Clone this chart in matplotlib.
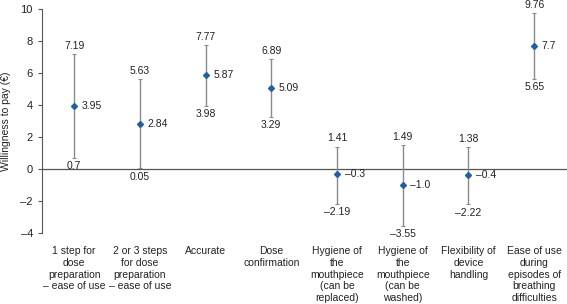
import matplotlib.pyplot as plt
import numpy as np

# datos
categorias = ["1 step for\ndose\npreparation\n\u2013 ease of use",
              "2 or 3 steps\nfor dose\npreparation\n\u2013 ease of use",
              "Accurate",
              "Dose\nconfirmation",
              "Hygiene of\nthe\nmouthpiece\n(can be\nreplaced)",
              "Hygiene of\nthe\nmouthpiece\n(can be\nwashed)",
              "Flexibility of\ndevice\nhandling",
              "Ease of use\nduring\nepisodes of\nbreathing\ndifficulties"]
media = [3.95, 2.84, 5.87, 5.09, -0.3, -1.0, -0.4, 7.7]
superior = [7.19, 5.63, 7.77, 6.89, 1.41, 1.49, 1.38, 9.76]
inferior = [0.7, 0.05, 3.98, 3.29, -2.19, -3.55, -2.22, 5.65]
yticks = [-4, -2, 0, 2, 4, 6, 8, 10]

plt.rcParams['font.family'] = ['Liberation Sans', 'DejaVu Sans']
fs = 7.5
gris = '#8a8a8a'
azul = '#1f5fa6'


def etiqueta(v):
  return str(v).replace('-', '\u2013')


fig = plt.figure(figsize=(5.67, 3.04), dpi=100)
ax = fig.add_axes([0.074, 0.234, 0.926, 0.735])

x = np.arange(len(categorias))
med = np.array(media)
sup = np.array(superior)
inf = np.array(inferior)

ax.axhline(0, color='#555555', lw=0.9, zorder=1)
ax.errorbar(x, med, yerr=[med - inf, sup - med], fmt='none', ecolor=gris,
            elinewidth=1.0, capsize=1.2, capthick=0.8, zorder=2)
ax.plot(x, med, 'D', color=azul, ms=3.0, zorder=3)

for i in range(len(x)):
  ax.annotate(etiqueta(media[i]), (x[i], med[i]), xytext=(5.5, 0),
              textcoords='offset points', ha='left', va='center', fontsize=fs, color='#222222')
  ax.annotate(etiqueta(superior[i]), (x[i], sup[i]), xytext=(0, 2.2),
              textcoords='offset points', ha='center', va='bottom', fontsize=fs, color='#222222',
              annotation_clip=False)
  ax.annotate(etiqueta(inferior[i]), (x[i], inf[i]), xytext=(0, -2.5),
              textcoords='offset points', ha='center', va='top', fontsize=fs, color='#222222')
  ax.text(x[i], -4.85, categorias[i], ha='center', va='top', fontsize=fs,
          color='#222222', linespacing=1.2)

ax.set_xlim(-0.49, 7.5)
ax.set_ylim(-4, 10)
ax.set_yticks(yticks)
ax.set_yticklabels([etiqueta(t) for t in yticks], fontsize=fs + 0.5, color='#222222')
ax.set_xticks([])
ax.set_ylabel("Willingness to pay (\u20ac)", fontsize=fs, color='#222222', labelpad=7)
for s in ['top', 'right', 'bottom']:
  ax.spines[s].set_visible(False)
ax.spines['left'].set_color('#555555')
ax.tick_params(axis='y', length=3, color='#555555', width=0.8)

fig.savefig('out.png', dpi=100)
